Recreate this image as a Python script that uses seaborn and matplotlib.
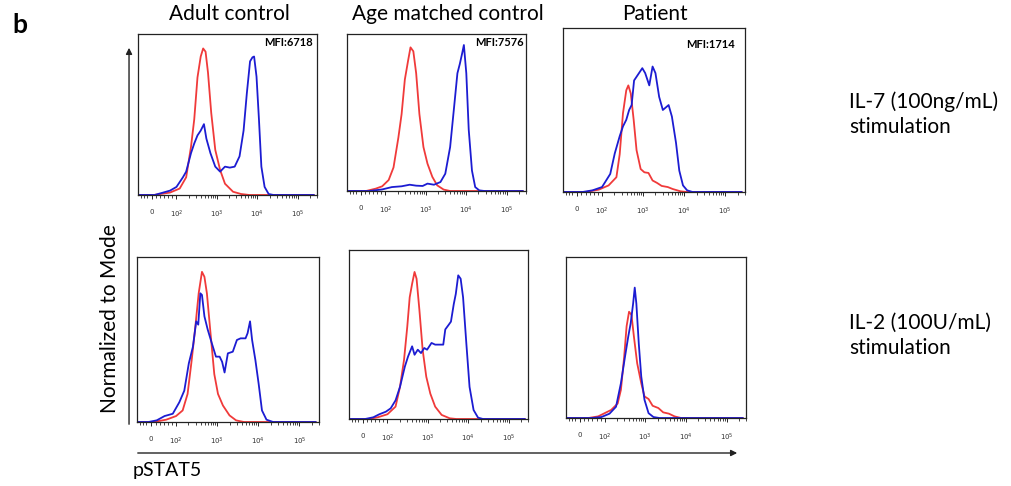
import numpy as np
import pandas as pd
import matplotlib
matplotlib.use("Agg")
import matplotlib.pyplot as plt
from matplotlib.patches import FancyArrowPatch
import seaborn as sns

# x values are log10(pSTAT5), y values are % of the panel height (normalized to mode)

# IL-7, adult control
adult_il7_red_x = [1.05, 1.44, 1.84, 2.08, 2.24, 2.36, 2.44, 2.52, 2.60, 2.66, 2.72, 2.78, 2.86, 2.96, 3.08, 3.20, 3.40, 3.60, 3.80, 5.40]
adult_il7_red_y = [0, 0, 1.5, 4, 11, 30, 47, 73, 86, 91, 89, 76, 51, 28, 15.5, 7, 2, 0.6, 0, 0]
adult_il7_blue_x = [1.05, 1.46, 1.84, 2.00, 2.16, 2.24, 2.36, 2.44, 2.52, 2.60, 2.68, 2.74, 2.84, 2.96, 3.08, 3.20, 3.32, 3.44,
                    3.56, 3.66, 3.74, 3.82, 3.88, 3.92, 3.98, 4.04, 4.10, 4.18, 4.28, 4.40, 5.40]
adult_il7_blue_y = [0, 0, 2.7, 5, 11, 14.5, 26, 32, 37, 40, 44, 35, 26, 17.6, 14.5, 17.6, 17, 17.6,
                    24, 40, 63, 83, 85.5, 86, 73.5, 47, 17.6, 5, 0.6, 0, 0]

# IL-7, age matched control
age_il7_red_x = [1.05, 1.52, 1.76, 1.92, 2.08, 2.20, 2.32, 2.40, 2.48, 2.56, 2.62, 2.69, 2.76, 2.84, 2.94, 3.04, 3.16, 3.28, 3.44, 3.60, 5.40]
age_il7_red_y = [0, 0, 1.5, 3, 7, 15, 34, 49, 71, 83, 91.5, 89, 75, 49, 28, 17.4, 9, 3.6, 0.9, 0, 0]
age_il7_blue_x = [1.05, 1.60, 1.92, 2.16, 2.40, 2.60, 2.76, 2.92, 3.04, 3.20, 3.36, 3.48, 3.60, 3.70, 3.78, 3.84, 3.90, 3.94,
                  4.00, 4.06, 4.14, 4.22, 4.32, 4.45, 5.40]
age_il7_blue_y = [0, 0, 1, 2.5, 3, 4, 3.4, 3.2, 4.7, 4, 5.7, 11, 28, 54, 75, 81, 88, 93,
                  75, 39, 13, 2.5, 0.4, 0, 0]

# IL-7, patient
pat_il7_red_x = [1.05, 1.61, 1.92, 2.16, 2.35, 2.43, 2.51, 2.59, 2.64, 2.70, 2.77, 2.84, 2.94, 3.03, 3.13, 3.23, 3.34, 3.45,
                 3.60, 3.72, 3.91, 4.05, 5.40]
pat_il7_red_y = [0, 0, 1.4, 4, 9, 23, 48, 62, 65, 60, 44, 25.5, 14, 12, 11.6, 7, 5.5, 3.7,
                 3, 1.8, 0.4, 0, 0]
pat_il7_blue_x = [1.05, 1.53, 1.77, 2.00, 2.20, 2.31, 2.43, 2.51, 2.59, 2.66, 2.72, 2.78, 2.86, 2.98, 3.05, 3.15, 3.23, 3.30,
                  3.39, 3.48, 3.62, 3.70, 3.80, 3.88, 3.97, 4.07, 4.20, 5.40]
pat_il7_blue_y = [0, 0, 1, 3, 11, 23.5, 34, 40, 44, 50, 53, 68, 71, 75.5, 72.5, 65, 76.5, 72.5,
                  58, 50, 53, 46, 30, 13, 4, 1, 0, 0]

# IL-2, adult control
adult_il2_red_x = [1.05, 1.45, 1.76, 2.00, 2.16, 2.28, 2.38, 2.47, 2.55, 2.63, 2.69, 2.75, 2.83, 2.93, 3.02, 3.14, 3.30, 3.46,
                   3.65, 5.40]
adult_il2_red_y = [0, 0, 1.4, 3.6, 7, 17, 37.5, 58, 78, 91, 88, 78, 56, 29, 17, 10, 4, 1,
                   0, 0]
adult_il2_blue_x = [1.05, 1.33, 1.53, 1.72, 1.92, 2.08, 2.20, 2.31, 2.41, 2.49, 2.54, 2.59, 2.63, 2.69, 2.77, 2.87, 2.97, 3.06,
                    3.12, 3.18, 3.26, 3.38, 3.48, 3.57, 3.69, 3.74, 3.80, 3.85, 3.93, 4.01, 4.09, 4.20, 4.36, 5.40]
adult_il2_blue_y = [0, 0, 1, 3.6, 5, 12, 19, 35.5, 45.6, 61, 59, 78, 77, 64, 56, 47.7, 39.6, 39.6,
                    36.5, 30, 41.6, 42.6, 49.7, 50.7, 50.7, 53.8, 61, 49.7, 37.5, 23, 7, 1.4, 0, 0]

# IL-2, age matched control
age_il2_red_x = [1.05, 1.53, 1.76, 2.00, 2.20, 2.31, 2.41, 2.49, 2.55, 2.61, 2.67, 2.72, 2.79, 2.87, 2.96, 3.06, 3.18, 3.34,
                 3.54, 3.70, 5.40]
age_il2_red_y = [0, 0, 1, 2.8, 7.3, 19, 35, 54.6, 72, 80, 87, 83, 64.5, 41, 25, 15, 7.3, 2.4,
                 0.4, 0, 0]
age_il2_blue_x = [1.05, 1.45, 1.65, 1.80, 1.96, 2.08, 2.20, 2.31, 2.43, 2.51, 2.61, 2.67, 2.75, 2.83, 2.91, 2.98, 3.09, 3.18,
                  3.30, 3.38, 3.43, 3.51, 3.57, 3.64, 3.69, 3.75, 3.81, 3.87, 3.95, 4.03, 4.13, 4.24, 4.36, 5.40]
age_il2_blue_y = [0, 0, 1, 2.8, 4.3, 6.3, 11, 19, 31, 37, 43, 38, 41, 39, 42, 41, 45, 44,
                  44, 44, 53, 55.6, 57.6, 68, 74, 85, 83, 72, 45, 19, 5.3, 0.8, 0, 0]

# IL-2, patient
pat_il2_red_x = [1.05, 1.60, 1.84, 2.00, 2.16, 2.32, 2.40, 2.48, 2.54, 2.60, 2.66, 2.72, 2.80, 2.90, 2.98, 3.08, 3.18, 3.32,
                 3.44, 3.58, 3.72, 3.88, 5.40]
pat_il2_red_y = [0, 0, 1, 3, 5, 9, 17.5, 38, 57, 66, 64, 50.5, 34, 21.6, 13.4, 11.8, 7.6, 6.2,
                 3.5, 2.7, 1, 0, 0]
pat_il2_blue_x = [1.05, 1.68, 1.92, 2.12, 2.28, 2.40, 2.50, 2.58, 2.64, 2.70, 2.74, 2.78, 2.84, 2.90, 2.98, 3.08, 3.20, 3.35,
                  5.40]
pat_il2_blue_y = [0, 0, 0.6, 2.7, 7, 21.6, 38, 50.5, 58.8, 71, 81, 71, 46, 25.8, 11.3, 3, 0.6, 0,
                  0]

col_titles = ["Adult control", "Age matched control", "Patient"]
row_labels = ["IL-7 (100ng/mL)", "IL-2 (100U/mL)"]
mfi_labels = ["MFI:6718", "MFI:7576", "MFI:1714"]
tick_labels = ["0", "$10^2$", "$10^3$", "$10^4$", "$10^5$"]

RED = "#f03a3a"
BLUE = "#1c1cd2"

sns.set_style("white")
plt.rcParams["font.family"] = ["Lato", "DejaVu Sans"]
plt.rcParams["text.color"] = "black"

fig = plt.figure(figsize=(10.12, 4.86), dpi=100)

rects = [
    [0.1364, 0.5988, 0.1769, 0.3313],
    [0.3429, 0.6070, 0.1769, 0.3230],
    [0.5563, 0.6050, 0.1798, 0.3374],
    [0.1354, 0.1317, 0.1798, 0.3395],
    [0.3449, 0.1379, 0.1769, 0.3477],
    [0.5593, 0.1399, 0.1779, 0.3313],
]
curves = [
    (adult_il7_red_x, adult_il7_red_y, adult_il7_blue_x, adult_il7_blue_y),
    (age_il7_red_x, age_il7_red_y, age_il7_blue_x, age_il7_blue_y),
    (pat_il7_red_x, pat_il7_red_y, pat_il7_blue_x, pat_il7_blue_y),
    (adult_il2_red_x, adult_il2_red_y, adult_il2_blue_x, adult_il2_blue_y),
    (age_il2_red_x, age_il2_red_y, age_il2_blue_x, age_il2_blue_y),
    (pat_il2_red_x, pat_il2_red_y, pat_il2_blue_x, pat_il2_blue_y),
]
mfi_pos = [(0.978, 0.95), (0.988, 0.943), (0.945, 0.90)]

major = [1.39, 2, 3, 4, 5]
minor = [1.12, 1.2, 1.28, 1.5, 1.6, 1.7, 1.8, 1.9]
for d in [2, 3, 4]:
    minor += [d + np.log10(k) for k in range(2, 10)]
minor += [5 + np.log10(2), 5 + np.log10(3)]

for i, (rect, (rx, ry, bx, by)) in enumerate(zip(rects, curves)):
    ax = fig.add_axes(rect)
    red = pd.DataFrame({"x": rx, "y": ry})
    blue = pd.DataFrame({"x": bx, "y": by})
    sns.lineplot(data=red, x="x", y="y", color=RED, lw=1.3, ax=ax, sort=False)
    sns.lineplot(data=blue, x="x", y="y", color=BLUE, lw=1.3, ax=ax, sort=False)
    ax.set_xlim(1.05, 5.37)
    ax.set_ylim(0, 100)
    ax.set_xlabel("")
    ax.set_ylabel("")
    ax.set_yticks([])
    ax.set_xticks(major)
    ax.set_xticklabels(tick_labels, fontsize=5, color="#333333", family="DejaVu Sans")
    ax.set_xticks(minor, minor=True)
    ax.tick_params(axis="x", which="major", direction="out", length=3, width=0.7, pad=7, bottom=True)
    ax.tick_params(axis="x", which="minor", direction="out", length=2, width=0.6, bottom=True)
    for s in ax.spines.values():
        s.set_color("#222222")
        s.set_linewidth(0.9)
    if i < 3:
        mx, my = mfi_pos[i]
        ax.text(mx, my, mfi_labels[i], transform=ax.transAxes, ha="right", va="center",
                fontsize=8, fontweight="bold")

# column titles and panel letter
for x, t in zip([0.2263, 0.4427, 0.6472], col_titles):
    fig.text(x, 0.9712, t, ha="center", va="center", fontsize=15)
fig.text(0.0119, 0.948, "b", ha="left", va="center", fontsize=19, fontweight="bold")

# row labels on the right
for y, t in zip([0.790, 0.3354], row_labels):
    fig.text(0.839, y, t, ha="left", va="center", fontsize=15)
    fig.text(0.839, y - 0.052, "stimulation", ha="left", va="center", fontsize=15)

# shared axis arrows and labels
fig.add_artist(FancyArrowPatch((0.1275, 0.1214), (0.1275, 0.9074), transform=fig.transFigure,
                               arrowstyle="-|>", mutation_scale=9, lw=1.0, color="#222222"))
fig.add_artist(FancyArrowPatch((0.1334, 0.0679), (0.7312, 0.0679), transform=fig.transFigure,
                               arrowstyle="-|>", mutation_scale=9, lw=1.0, color="#222222"))
fig.text(0.1087, 0.3436, "Normalized to Mode", rotation=90, ha="center", va="center", fontsize=15)
fig.text(0.1314, 0.0329, "pSTAT5", ha="left", va="center", fontsize=14)

fig.savefig("out.png", dpi=100, facecolor="white")
